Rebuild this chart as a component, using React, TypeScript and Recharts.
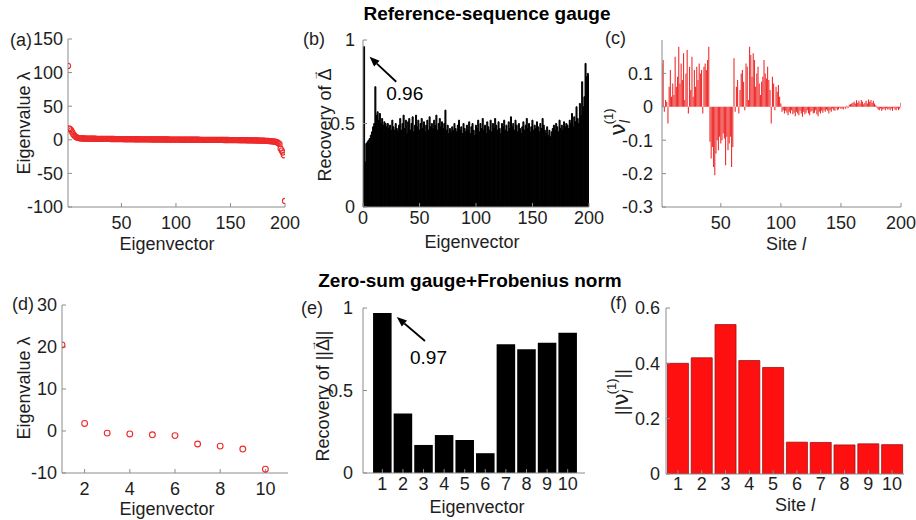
import React from "react";
import { ComposedChart, Bar, Scatter, XAxis, YAxis, ReferenceLine } from "recharts";

// (a) eigenvalues, reference-sequence gauge (200 eigenvectors)
const eigenA = [
  110, 17, 16, 14, 11, 8, 6, 4.5, 3.5, 3, 2.6, 2.3, 2.1, 2.0, 1.95,
  1.9, 1.85, 1.8, 1.76, 1.72, 1.68, 1.65, 1.62, 1.59, 1.56,
  1.53, 1.5, 1.48, 1.45, 1.43, 1.4, 1.38, 1.36, 1.34, 1.32,
  1.3, 1.28, 1.26, 1.24, 1.22, 1.2, 1.18, 1.16, 1.14, 1.12,
  1.1, 1.08, 1.07, 1.05, 1.03, 1.02, 1.0, 0.98, 0.97, 0.95,
  0.94, 0.92, 0.91, 0.89, 0.88, 0.86, 0.85, 0.83, 0.82, 0.8,
  0.79, 0.77, 0.76, 0.74, 0.73, 0.72, 0.7, 0.69, 0.67, 0.66,
  0.65, 0.63, 0.62, 0.6, 0.59, 0.58, 0.56, 0.55, 0.54, 0.52,
  0.51, 0.5, 0.48, 0.47, 0.46, 0.44, 0.43, 0.42, 0.4, 0.39,
  0.38, 0.36, 0.35, 0.34, 0.32, 0.31, 0.3, 0.28, 0.27, 0.26,
  0.24, 0.23, 0.22, 0.2, 0.19, 0.18, 0.16, 0.15, 0.14, 0.12,
  0.11, 0.1, 0.08, 0.07, 0.06, 0.04, 0.03, 0.02, 0, -0.01,
  -0.02, -0.04, -0.05, -0.06, -0.08, -0.09, -0.1, -0.12, -0.13, -0.14,
  -0.16, -0.17, -0.18, -0.2, -0.21, -0.22, -0.24, -0.25, -0.27, -0.28,
  -0.3, -0.31, -0.33, -0.34, -0.36, -0.37, -0.39, -0.4, -0.42, -0.44,
  -0.46, -0.48, -0.5, -0.52, -0.54, -0.56, -0.58, -0.6, -0.63, -0.66,
  -0.69, -0.72, -0.75, -0.78, -0.82, -0.86, -0.9, -0.94, -0.98, -1.03,
  -1.08, -1.13, -1.19, -1.25, -1.32, -1.4, -1.48, -1.57, -1.67, -1.78,
  -1.9, -2.05, -2.2, -2.4, -2.6, -2.9, -3.3, -3.9, -4.8, -6.5,
  -13, -16, -19, -23, -91,
];

// (b) recovery of Delta per eigenvector
const recoveryB = [
  0.96, 0.27, 0.38, 0.39, 0.4, 0.41, 0.43, 0.45, 0.48, 0.5,
  0.72, 0.55, 0.57, 0.52, 0.56, 0.5, 0.53, 0.49, 0.51, 0.5,
  0.48, 0.5, 0.47, 0.49, 0.46, 0.52, 0.48, 0.46, 0.5, 0.47,
  0.45, 0.49, 0.53, 0.46, 0.5, 0.55, 0.47, 0.52, 0.44, 0.51,
  0.53, 0.46, 0.5, 0.54, 0.45, 0.49, 0.55, 0.48, 0.52, 0.46,
  0.5, 0.53, 0.47, 0.51, 0.45, 0.49, 0.52, 0.46, 0.54, 0.48,
  0.5, 0.47, 0.52, 0.49, 0.55, 0.46, 0.5, 0.53, 0.48, 0.51,
  0.47, 0.5, 0.58, 0.46, 0.49, 0.44, 0.47, 0.45, 0.48, 0.46,
  0.5, 0.47, 0.45, 0.49, 0.52, 0.46, 0.48, 0.44, 0.5, 0.47,
  0.45, 0.49, 0.46, 0.51, 0.44, 0.48, 0.5, 0.46, 0.43, 0.49,
  0.47, 0.52, 0.45, 0.5, 0.47, 0.53, 0.46, 0.49, 0.44, 0.51,
  0.48, 0.46, 0.52, 0.45, 0.5, 0.47, 0.53, 0.49, 0.46, 0.51,
  0.47, 0.44, 0.5, 0.48, 0.52, 0.46, 0.49, 0.45, 0.51, 0.47,
  0.54, 0.48, 0.5, 0.46, 0.52, 0.49, 0.45, 0.5, 0.47, 0.44,
  0.48, 0.51, 0.46, 0.49, 0.53, 0.47, 0.5, 0.45, 0.48, 0.52,
  0.46, 0.49, 0.47, 0.51, 0.48, 0.45, 0.5, 0.47, 0.53, 0.49,
  0.46, 0.44, 0.48, 0.43, 0.46, 0.42, 0.45, 0.47, 0.49, 0.46,
  0.5, 0.48, 0.45, 0.52, 0.47, 0.49, 0.46, 0.51, 0.48, 0.5,
  0.49, 0.47, 0.52, 0.5, 0.56, 0.48, 0.54, 0.51, 0.6, 0.53,
  0.5, 0.62, 0.55, 0.75, 0.6, 0.66, 0.86, 0.78, 0.8, 0.79,
];

// (c) first eigenvector components per site
const vectorC = [
  0.13, 0.14, -0.015, 0.02, 0.015, -0.05, 0.06, 0.11, 0.03, 0.07,
  0.035, 0.15, 0.06, 0.09, 0.18, 0.07, 0.13, 0.08, 0.16, 0.02,
  0.1, 0.17, -0.02, 0.12, 0.05, 0.15, 0.03, 0.11, 0.06, 0.12,
  0.08, 0.13, 0.1, 0.11, -0.02, 0.12, 0.13, 0.11, 0.14, 0.18,
  -0.105, -0.155, -0.12, -0.18, -0.205, -0.14, -0.1, -0.13, -0.09, -0.11,
  -0.1, -0.08, -0.095, -0.175, -0.09, -0.13, -0.11, -0.09, -0.18, -0.12,
  0.145, -0.015, 0.06, 0.08, -0.02, 0.05, 0.1, 0.11, 0.075, -0.01,
  0.13, 0.12, 0.02, 0.18, 0.155, 0.09, 0.16, 0.14, 0.06, 0.1,
  0.12, 0.07, 0.035, 0.075, 0.09, 0.14, 0.1, 0.085, 0.12, 0.08,
  0.05, -0.05, 0.09, 0.07, -0.01, 0.06, 0.045, 0.065, 0.03, 0.01,
  -0.015, -0.01, -0.02, -0.012, -0.018, -0.025, -0.015, -0.02, -0.01, -0.022,
  -0.018, -0.028, -0.015, -0.02, -0.025, -0.012, -0.02, -0.03, -0.015, -0.022,
  -0.018, -0.01, -0.02, -0.025, -0.015, -0.012, -0.02, -0.018, -0.01, -0.022,
  -0.028, -0.015, -0.02, -0.012, -0.018, -0.01, -0.015, -0.008, -0.012, -0.02,
  -0.01, -0.015, -0.005, -0.01, -0.012, -0.004, -0.01, -0.008, -0.003, -0.006,
  -0.005, -0.008, -0.002, -0.006, 0.003, -0.004, 0.006, 0.008, 0.01, 0.012,
  0.015, 0.01, 0.02, 0.012, 0.018, 0.01, 0.02, 0.015, 0.008, 0.012,
  0.018, 0.01, 0.022, 0.015, 0.02, 0.012, 0.018, 0.01, 0.005, -0.003,
  -0.008, -0.01, -0.005, -0.012, -0.008, -0.006, -0.01, -0.004, -0.008, -0.006,
  -0.01, -0.005, -0.012, -0.003, -0.008, -0.01, -0.004, -0.01, -0.006, 0.012,
];

// (d)-(f) zero-sum gauge, 10 sites
const eigenD = [20.5, 1.8, -0.5, -0.7, -0.9, -1.1, -3.1, -3.6, -4.3, -9.1];
const recoveryE = [0.97, 0.36, 0.17, 0.23, 0.2, 0.12, 0.78, 0.75, 0.79, 0.85];
const normF = [0.4, 0.42, 0.54, 0.41, 0.385, 0.115, 0.114, 0.105, 0.109, 0.106];

const ticksAx = [50, 100, 150, 200];
const ticksAy = [-100, -50, 0, 50, 100, 150];
const ticksBx = [0, 50, 100, 150, 200];
const ticksBy = [0, 0.5, 1];
const ticksCx = [50, 100, 150, 200];
const ticksCy = [-0.3, -0.2, -0.1, 0, 0.1];
const ticksDx = [2, 4, 6, 8, 10];
const ticksDy = [-10, 0, 10, 20, 30];
const ticksEx = [1, 2, 3, 4, 5, 6, 7, 8, 9, 10];
const ticksEy = [0, 0.5, 1];
const ticksFy = [0, 0.2, 0.4, 0.6];

// arrow annotations: [tail, head] in data units
const arrowB = [{ x: 29.4, y: 0.75 }, { x: 5.8, y: 0.9 }];
const arrowE = [{ x: 3.07, y: 0.8 }, { x: 1.7, y: 0.945 }];

const rows = (vals: number[]) => vals.map((v, i) => ({ x: i + 1, y: v }));

const FONT = '"Liberation Sans", Arial, Helvetica, sans-serif';
const AXIS = "#8c8c8c";
const INK = "#1e1e1e";
const RED = "#ee2a2a";

type Geo = { x0: number; x1: number; y0: number; y1: number };
const YW = 50;
const TOP = 14;
const RIGHT = 22;
const XH = 40;

const geoA: Geo = { x0: 68, x1: 285, y0: 39, y1: 207 };
const geoB: Geo = { x0: 363, x1: 589, y0: 40, y1: 207 };
const geoC: Geo = { x0: 662, x1: 901, y0: 40, y1: 207 };
const geoD: Geo = { x0: 62, x1: 288, y0: 305, y1: 473 };
const geoE: Geo = { x0: 363, x1: 585, y0: 308, y1: 473 };
const geoF: Geo = { x0: 666, x1: 904, y0: 308, y1: 474 };

function boxProps(g: Geo) {
  return {
    style: { position: "absolute" as const, left: g.x0 - YW, top: g.y0 - TOP },
    width: g.x1 - g.x0 + YW + RIGHT,
    height: g.y1 - g.y0 + TOP + XH,
    margin: { top: TOP, right: RIGHT, bottom: 0, left: 0 },
  };
}

const tickFont = { fontSize: 18, fill: INK, fontFamily: FONT };

function boxAxes(c: {
  xType: "number" | "category";
  xDomain?: [number, number];
  xTicks?: number[];
  yDomain: [number, number];
  yTicks: number[];
  xGap: number;
  yGap: number;
}) {
  const common = { stroke: AXIS, tickSize: -4, allowDataOverflow: true, interval: 0 as const };
  return [
    <XAxis key="xb" xAxisId="b" dataKey="x" type={c.xType} domain={c.xDomain} ticks={c.xTicks}
      height={XH} tickMargin={c.xGap} tick={tickFont} {...common} />,
    <XAxis key="xt" xAxisId="t" orientation="top" dataKey="x" type={c.xType} domain={c.xDomain}
      ticks={c.xTicks} height={0} tick={false} {...common} />,
    <YAxis key="yl" yAxisId="l" type="number" domain={c.yDomain} ticks={c.yTicks}
      width={YW} tickMargin={c.yGap} tick={tickFont} {...common} />,
    <YAxis key="yr" yAxisId="r" orientation="right" type="number" domain={c.yDomain} ticks={c.yTicks}
      width={0} tick={false} {...common} />,
  ];
}

const ring = (r: number) => (p: any) => (
  <circle cx={p.cx} cy={p.cy} r={r} fill="none" stroke={RED} strokeWidth={1.1} />
);

const arrowShape = (text: string, dx: number, dy: number) => (p: any) => {
  const { x1, y1, x2, y2 } = p;
  const len = Math.hypot(x2 - x1, y2 - y1) || 1;
  const ux = (x2 - x1) / len, uy = (y2 - y1) / len;
  const bx = x2 - ux * 10, by = y2 - uy * 10;
  const head = `${x2},${y2} ${bx - uy * 4},${by + ux * 4} ${bx + uy * 4},${by - ux * 4}`;
  return (
    <g>
      <line x1={x1} y1={y1} x2={bx} y2={by} stroke="#000" strokeWidth={1.8} />
      <polygon points={head} fill="#000" />
      <text x={x1 + dx} y={y1 + dy} fontSize={19} fontFamily={FONT} fill="#000">{text}</text>
    </g>
  );
};

export default function App() {
  const t = { fontFamily: FONT, fill: INK, fontSize: 18 };
  const rot = (x: number, y: number) => ({ x, y, transform: `rotate(-90 ${x} ${y})`, textAnchor: "middle" as const });
  const nu = { fontFamily: '"DejaVu Sans", sans-serif', fontSize: 22 };
  return (
    <div style={{ position: "absolute", left: 0, top: 0, width: 916, height: 520, background: "#fff", fontFamily: FONT, overflow: "hidden" }}>
      <ComposedChart data={rows(eigenA)} {...boxProps(geoA)}>
        {boxAxes({ xType: "number", xDomain: [1, 200], xTicks: ticksAx, yDomain: [-100, 150], yTicks: ticksAy, xGap: 13, yGap: 9 })}
        <Scatter xAxisId="b" yAxisId="l" dataKey="y" shape={ring(2.6)} isAnimationActive={false} />
      </ComposedChart>

      <ComposedChart data={rows(recoveryB)} barCategoryGap={0} {...boxProps(geoB)}>
        {boxAxes({ xType: "number", xDomain: [0, 200], xTicks: ticksBx, yDomain: [0, 1], yTicks: ticksBy, xGap: 8, yGap: 12 })}
        <Bar xAxisId="b" yAxisId="l" dataKey="y" fill="#000" stroke="#000" strokeWidth={1} barSize={3} isAnimationActive={false} />
        <ReferenceLine xAxisId="b" yAxisId="l" segment={arrowB} ifOverflow="visible" shape={arrowShape("0.96", -10, 18)} />
      </ComposedChart>

      <ComposedChart data={rows(vectorC)} barCategoryGap={0} {...boxProps(geoC)}>
        {boxAxes({ xType: "number", xDomain: [1, 200], xTicks: ticksCx, yDomain: [-0.3, 0.2], yTicks: ticksCy, xGap: 13, yGap: 13 })}
        <Bar xAxisId="b" yAxisId="l" dataKey="y" fill={RED} barSize={1.8} isAnimationActive={false} />
      </ComposedChart>

      <ComposedChart data={rows(eigenD)} {...boxProps(geoD)}>
        {boxAxes({ xType: "number", xDomain: [1, 11], xTicks: ticksDx, yDomain: [-10, 30], yTicks: ticksDy, xGap: 13, yGap: 9 })}
        <Scatter xAxisId="b" yAxisId="l" dataKey="y" shape={ring(2.9)} isAnimationActive={false} />
      </ComposedChart>

      <ComposedChart data={rows(recoveryE)} barCategoryGap={0} {...boxProps(geoE)}>
        {boxAxes({ xType: "number", xDomain: [0.06, 10.84], xTicks: ticksEx, yDomain: [0, 1], yTicks: ticksEy, xGap: 8, yGap: 14 })}
        <Bar xAxisId="b" yAxisId="l" dataKey="y" fill="#000" barSize={20.7} isAnimationActive={false} />
        <ReferenceLine xAxisId="b" yAxisId="l" segment={arrowE} ifOverflow="visible" shape={arrowShape("0.97", -15, 23)} />
      </ComposedChart>

      <ComposedChart data={rows(normF)} barCategoryGap="6%" {...boxProps(geoF)}>
        {boxAxes({ xType: "category", yDomain: [0, 0.6], yTicks: ticksFy, xGap: 7, yGap: 10 })}
        <Bar xAxisId="b" yAxisId="l" dataKey="y" fill="#ff1010" stroke="#a01010" strokeWidth={0.8} isAnimationActive={false} />
      </ComposedChart>

      <svg width={916} height={520} style={{ position: "absolute", left: 0, top: 0, pointerEvents: "none" }}>
        <text x={487} y={20} textAnchor="middle" fontWeight="bold" fontSize={19} fontFamily={FONT} fill="#000">Reference-sequence gauge</text>
        <text x={470} y={287} textAnchor="middle" fontWeight="bold" fontSize={19} fontFamily={FONT} fill="#000">Zero-sum gauge+Frobenius norm</text>

        <text {...t} x={10} y={46}>(a)</text>
        <text {...t} x={303} y={45}>(b)</text>
        <text {...t} x={605} y={44}>(c)</text>
        <text {...t} x={12} y={310}>(d)</text>
        <text {...t} x={301} y={314}>(e)</text>
        <text {...t} x={610} y={309}>(f)</text>

        <text {...t} x={167} y={250} textAnchor="middle">Eigenvector</text>
        <text {...t} x={472} y={248} textAnchor="middle">Eigenvector</text>
        <text {...t} x={786} y={250} textAnchor="middle">Site <tspan fontStyle="italic">l</tspan></text>
        <text {...t} x={167} y={515} textAnchor="middle">Eigenvector</text>
        <text {...t} x={477} y={513} textAnchor="middle">Eigenvector</text>
        <text {...t} x={795} y={511} textAnchor="middle">Site <tspan fontStyle="italic">l</tspan></text>

        <text {...t} {...rot(30, 123)}>Eigenvalue  λ</text>
        <text {...t} {...rot(331, 125)}>Recovery of Δ<tspan dx={-12} dy={-13} fontSize={11}>→</tspan></text>
        <text {...t} {...rot(625, 122)}><tspan {...nu}>ν</tspan><tspan dy={5} fontSize={14} fontStyle="italic">l</tspan><tspan dx={-4} dy={-17} fontSize={13}>(1)</tspan></text>
        <text {...t} {...rot(30, 388)}>Eigenvalue  λ</text>
        <text {...t} {...rot(329, 396)}>Recovery of ||Δ<tspan dx={-12} dy={-13} fontSize={11}>→</tspan><tspan dy={13}>||</tspan></text>
        <text {...t} {...rot(628, 392)}>||<tspan {...nu}>ν</tspan><tspan dy={5} fontSize={14} fontStyle="italic">l</tspan><tspan dx={-4} dy={-17} fontSize={13}>(1)</tspan><tspan dy={12}>||</tspan></text>
      </svg>
    </div>
  );
}
